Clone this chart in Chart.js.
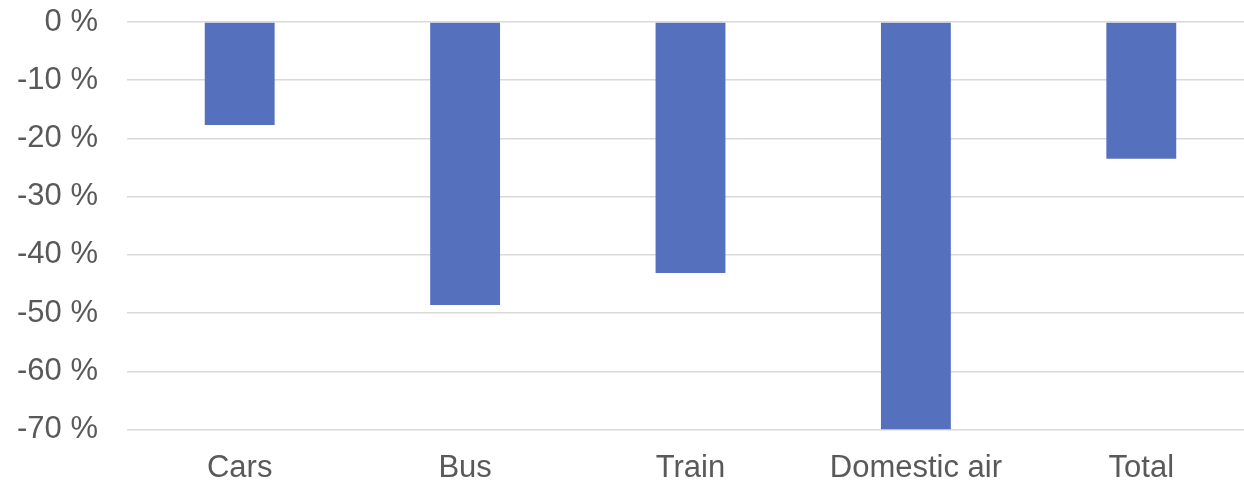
<!DOCTYPE html>
<html>
<head>
<meta charset="utf-8">
<script src="https://cdn.jsdelivr.net/npm/chart.js@4"></script>
<style>
  html, body { margin: 0; padding: 0; background: #fff; overflow: hidden; }
  canvas { display: block; }
</style>
</head>
<body>
<canvas id="grafico" width="1254" height="482"></canvas>
<script>
// Datos
const categorias = ['Cars', 'Bus', 'Train', 'Domestic air', 'Total'];
const cambio = [-17.7, -48.6, -43.1, -70, -23.5];
const ticksY = [0, -10, -20, -30, -40, -50, -60, -70];

const ctx = document.getElementById('grafico').getContext('2d');
new Chart(ctx, {
    type: 'bar',
    data: {
        labels: categorias,
        datasets: [{
            data: cambio,
            backgroundColor: '#5571BE',
            borderWidth: 0,
            barPercentage: 1,
            categoryPercentage: 0.31
        }]
    },
    options: {
        responsive: false,
        animation: false,
        layout: { padding: 0 },
        plugins: {
            legend: { display: false },
            tooltip: { enabled: false }
        },
        scales: {
            x: {
                // alto fijo del eje para dejar el área del gráfico donde toca
                afterFit: axis => { axis.height = 52.5; },
                grid: { display: false, drawTicks: false },
                border: { display: false },
                ticks: {
                    color: '#595959',
                    font: { family: 'Liberation Sans, Arial', size: 31, lineHeight: 1 },
                    padding: 23,
                    maxRotation: 0
                }
            },
            y: {
                min: -70,
                max: 0,
                afterBuildTicks: axis => {
                    axis.ticks = ticksY.map(v => ({ value: v }));
                },
                afterFit: axis => {
                    axis.width = 127;
                    axis.paddingTop = 22;
                    axis.paddingBottom = 0;
                },
                grid: { color: '#D9D9D9', lineWidth: 1.5, drawTicks: false },
                border: { display: false },
                ticks: {
                    color: '#595959',
                    font: { family: 'Liberation Sans, Arial', size: 31, lineHeight: 1 },
                    padding: 29,
                    callback: v => v + ' %'
                }
            }
        }
    }
});
</script>
</body>
</html>
